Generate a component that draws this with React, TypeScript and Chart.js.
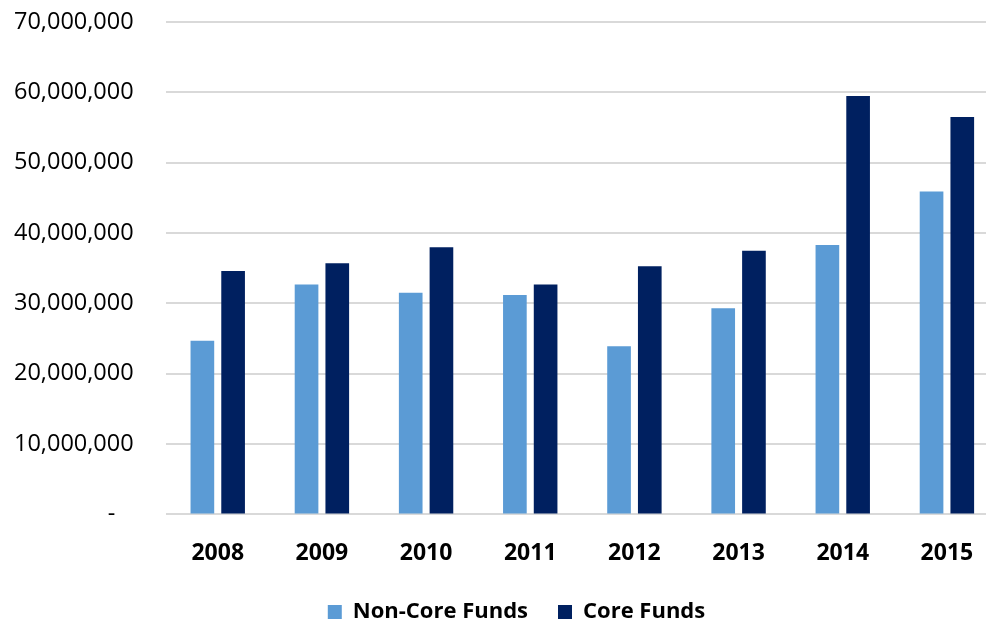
import React, { useEffect, useRef } from "react";
import { Chart, registerables } from "chart.js";

Chart.register(...registerables);

const categories = ["2008", "2009", "2010", "2011", "2012", "2013", "2014", "2015"];
const nonCoreFunds = [24700000, 32700000, 31500000, 31200000, 23900000, 29300000, 38300000, 45900000];
const coreFunds = [34600000, 35700000, 38000000, 32700000, 35300000, 37500000, 59500000, 56500000];
const seriesNames = ["Non-Core Funds", "Core Funds"];
const colors = ["#5B9BD5", "#002060"];

const shiftLegend = {
  id: "shiftLegend",
  afterLayout(chart: any) {
    const l = chart.legend;
    if (l) {
      l.left += 26;
      l.right += 26;
    }
  },
};

export default function App() {
  const ref = useRef<HTMLCanvasElement | null>(null);
  useEffect(() => {
    if (!ref.current) return;
    const chart = new Chart(ref.current, {
      type: "bar",
      data: {
        labels: categories,
        datasets: [
          { label: seriesNames[0], data: nonCoreFunds, backgroundColor: colors[0], barPercentage: 0.77, categoryPercentage: 0.59 },
          { label: seriesNames[1], data: coreFunds, backgroundColor: colors[1], barPercentage: 0.77, categoryPercentage: 0.59 },
        ],
      },
      plugins: [shiftLegend],
      options: {
        animation: false,
        responsive: false,
        maintainAspectRatio: false,
        layout: { padding: { left: 0, right: 0, top: 0, bottom: 0 } },
        plugins: {
          tooltip: { enabled: false },
          legend: {
            position: "bottom",
            labels: {
              boxWidth: 14,
              boxHeight: 14,
              padding: 30,
              color: "#000",
              font: { family: "'Open Sans'", size: 22, weight: "bold" },
            },
          },
        },
        scales: {
          x: {
            grid: { display: false },
            border: { display: false },
            afterFit: (scale: any) => {
              scale.height = 56.6;
            },
            ticks: { color: "#000", padding: 17, font: { family: "'Open Sans'", size: 23, weight: "bold" } },
          },
          y: {
            min: 0,
            max: 70000000,
            border: { display: false },
            grid: { color: "#d9d9d9", lineWidth: 2, drawTicks: false },
            ticks: {
              stepSize: 10000000,
              padding: 32,
              color: "#000",
              font: { family: "'Open Sans'", size: 23.5 },
              callback: (v: any) => (Number(v) === 0 ? "-   " : Number(v).toLocaleString("en-US")),
            },
          },
        },
      },
    });
    return () => chart.destroy();
  }, []);
  return (
    <div style={{ position: "fixed", left: 0, top: 0, width: 986, height: 624, overflow: "hidden", background: "#fff" }}>
      <canvas ref={ref} width={1017} height={657} style={{ display: "block", position: "absolute", left: -18, top: -24 }} />
    </div>
  );
}
